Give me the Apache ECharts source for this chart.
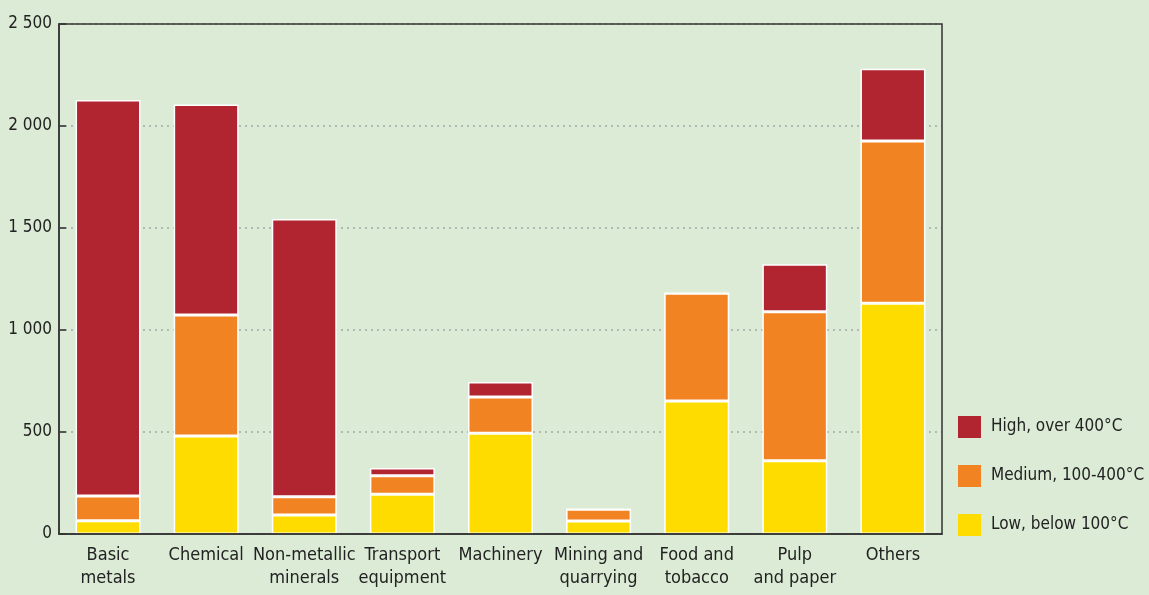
<!DOCTYPE html>
<html>
<head>
<meta charset="utf-8">
<script src="https://cdn.jsdelivr.net/npm/echarts@6/dist/echarts.min.js"></script>
<style>
  html, body { margin: 0; padding: 0; background: #dbebd6; }
  #main { width: 1149px; height: 595px; }
</style>
</head>
<body>
<div id="main"></div>
<script>
const categories = ['Basic\nmetals', 'Chemical', 'Non-metallic\nminerals', 'Transport\nequipment',
  'Machinery', 'Mining and\nquarrying', 'Food and\ntobacco', 'Pulp\nand paper', 'Others']
const lowValues = [65, 480, 93, 195, 494, 64, 652, 359, 1131]
const mediumValues = [121, 594, 90, 91, 178, 57, 528, 731, 795]
const highValues = [1941, 1032, 1361, 38, 73, 0, 0, 232, 355]
const seriesNames = ['High, over 400°C', 'Medium, 100-400°C', 'Low, below 100°C']

const font = '"Liberation Sans Narrow", "DejaVu Sans Condensed", sans-serif'
const textColor = '#222'

const chart = echarts.init(document.getElementById('main'))

function barSeries(name, data, color) {
    return {
        name: name,
        type: 'bar',
        stack: 'total',
        barWidth: 65,
        data: data,
        itemStyle: { color: color, borderColor: '#ffffff', borderWidth: 1.5 }
    }
}

chart.setOption({
    backgroundColor: '#dbebd6',
    animation: false,
    grid: {
        left: 59, right: 207, top: 24, bottom: 61, z: 10,
        show: true, borderColor: '#333', borderWidth: 1.5, backgroundColor: 'transparent'
    },
    legend: {
        orient: 'vertical',
        left: 958,
        top: 416,
        padding: 0,
        itemWidth: 23,
        itemHeight: 22,
        itemGap: 27,
        icon: 'rect',
        data: seriesNames,
        itemStyle: { borderWidth: 0 },
        textStyle: { fontFamily: font, fontSize: 17, color: textColor, padding: [0, 0, 0, 5] }
    },
    xAxis: {
        type: 'category',
        data: categories,
        z: 10,
        axisLine: { lineStyle: { color: '#333', width: 1.5 } },
        axisTick: { inside: true, length: 7, lineStyle: { color: '#333', width: 1.5 } },
        axisLabel: { fontFamily: font, fontSize: 18, color: textColor, lineHeight: 23, margin: 10, interval: 0 }
    },
    yAxis: {
        type: 'value',
        min: 0,
        max: 2500,
        interval: 500,
        axisLine: { show: true, lineStyle: { color: '#333', width: 1.5 } },
        axisTick: { show: true, inside: true, length: 7, lineStyle: { color: '#555', width: 2 } },
        axisLabel: {
            fontFamily: font, fontSize: 17, color: textColor, margin: 7,
            formatter: v => String(v).replace(/\B(?=(\d{3})+(?!\d))/g, ' ')
        },
        splitLine: { lineStyle: { color: '#b3b8b1', width: 2, type: [2, 4] } }
    },
    series: [
        barSeries(seriesNames[2], lowValues, '#ffdc00'),
        barSeries(seriesNames[1], mediumValues, '#f28322'),
        barSeries(seriesNames[0], highValues, '#b02530')
    ]
})
</script>
</body>
</html>
